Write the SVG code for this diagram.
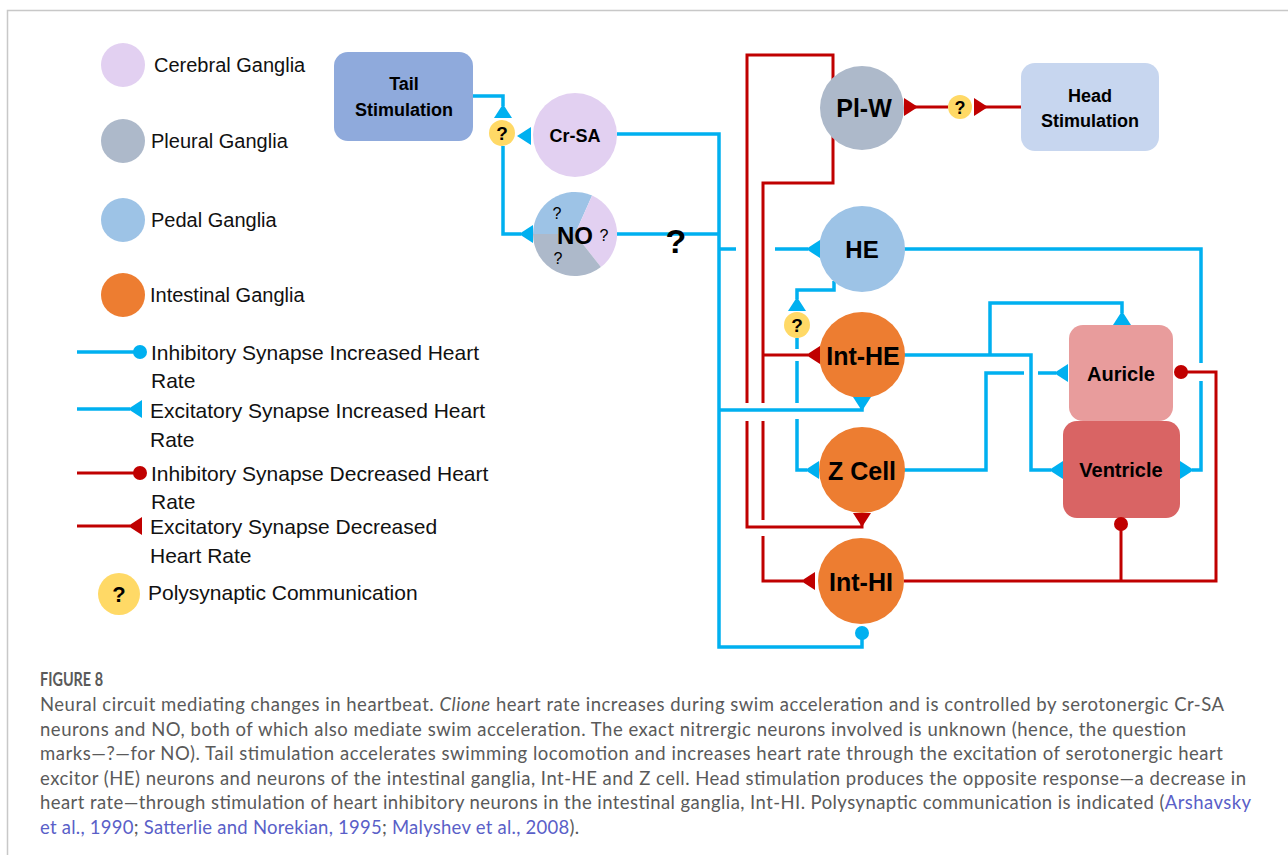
<svg xmlns="http://www.w3.org/2000/svg" width="1288" height="855" viewBox="0 0 1288 855">
<style>
.bl{fill:none;stroke:#00b0f0;stroke-width:3.5}
.rd{fill:none;stroke:#c00000;stroke-width:3}
.bf{fill:#00b0f0}
.rf{fill:#c00000}
.yq{fill:#ffd966}
.lg{font-family:"Liberation Sans",Arial,sans-serif;font-size:20px;fill:#111}
.lg2{font-family:"Liberation Sans",Arial,sans-serif;font-size:21px;fill:#111}
.nd{font-family:"Liberation Sans",Arial,sans-serif;font-weight:bold;fill:#000;text-anchor:middle}
.qs{font-family:"Liberation Sans",Arial,sans-serif;fill:#000;text-anchor:middle}
.cap{font-family:Lato,"Open Sans",sans-serif;font-size:18.5px;fill:#5a5a5a}
.lk{fill:#5a5fc8}
</style>
<defs>
<!-- excitatory synapse head: tip at origin, flat base 14px behind it -->
<path id="tri" d="M0,0 L14,-9 L14,9 Z"/>
</defs>
<rect width="1288" height="855" fill="#fff"/>
<!-- frame -->
<path d="M7.5,855 V10.5 H1288" fill="none" stroke="#c8c8c8" stroke-width="1.5"/>

<!-- legend -->
<g id="legend">
<circle cx="123" cy="65" r="22" fill="#e2d0f1"/>
<text class="lg" x="154" y="72">Cerebral Ganglia</text>
<circle cx="123" cy="141" r="22" fill="#adb9ca"/>
<text class="lg" x="151" y="148">Pleural Ganglia</text>
<circle cx="123" cy="220" r="22" fill="#9dc3e6"/>
<text class="lg" x="151" y="227">Pedal Ganglia</text>
<circle cx="123" cy="295" r="22" fill="#ed7d31"/>
<text class="lg" x="150" y="302">Intestinal Ganglia</text>

<path class="bl" d="M77,352 H136"/>
<circle class="bf" cx="140" cy="352" r="7"/>
<text class="lg2" x="151" y="360">Inhibitory Synapse Increased Heart</text>
<text class="lg2" x="151" y="388">Rate</text>

<path class="bl" d="M77,409 H130"/>
<use href="#tri" class="bf" transform="translate(128,409)"/>
<text class="lg2" x="150" y="418">Excitatory Synapse Increased Heart</text>
<text class="lg2" x="150" y="447">Rate</text>

<path class="rd" d="M77,473 H136"/>
<circle class="rf" cx="140" cy="473" r="7"/>
<text class="lg2" x="151" y="481">Inhibitory Synapse Decreased Heart</text>
<text class="lg2" x="151" y="509">Rate</text>

<path class="rd" d="M77,526 H130"/>
<use href="#tri" class="rf" transform="translate(128,526)"/>
<text class="lg2" x="150" y="534">Excitatory Synapse Decreased</text>
<text class="lg2" x="150" y="563">Heart Rate</text>

<circle class="yq" cx="119" cy="594" r="21"/>
<text class="qs" x="119" y="602" font-size="22" font-weight="bold">?</text>
<text class="lg2" x="148" y="600">Polysynaptic Communication</text>
</g>

<!-- wiring -->
<g id="connectors">
<!-- blue: increased heart rate pathways -->
<path class="bl" d="M473,96 H503 V106"/>
<path class="bl" d="M503,146 V234 H521"/>
<path class="bl" d="M617,134 H719 V647 H862 V638"/>
<path class="bl" d="M617,234 H719"/>
<path class="bl" d="M719,249 H736 M775,249 H808"/>
<path class="bl" d="M719,410 H862 V404"/>
<path class="bl" d="M904,249 H1201 V363 M1201,381 V470 H1192"/>
<path class="bl" d="M834,281 V290 H797 V299"/>
<path class="bl" d="M797,338 V349 M797,361 V403 M797,419 V470 H807"/>
<path class="bl" d="M904,355 H1031 V470 H1051"/>
<path class="bl" d="M990,355 V303 H1122 V313"/>
<path class="bl" d="M904,470 H986 V373 H1024 M1038,373 H1056"/>
<!-- red: decreased heart rate pathways -->
<path class="rd" d="M747,403 V55 H833 V183 H763 V403"/>
<path class="rd" d="M747,421 V527 H862 V520"/>
<path class="rd" d="M763,421 V520 M763,536 V581 H803"/>
<path class="rd" d="M763,355 H808" stroke-width="1.5"/>
<path class="rd" d="M904,107 H948 M974,107 H1021"/>
<path class="rd" d="M1181,372 H1216 V581 H904"/>
<path class="rd" d="M1121,524 V581"/>
</g>

<!-- nodes -->
<g id="tail-stimulation">
<rect x="334" y="52" width="139" height="89" rx="14" fill="#8faadc"/>
<text class="nd" x="404" y="90" font-size="18">Tail</text>
<text class="nd" x="404" y="116" font-size="18">Stimulation</text>
</g>
<g id="q-tail">
<circle class="yq" cx="502" cy="133" r="13"/>
<text class="qs" x="502" y="140" font-size="19" font-weight="bold">?</text>
</g>
<g id="cr-sa">
<circle cx="575" cy="135" r="42" fill="#e2d0f1"/>
<text class="nd" x="575" y="142" font-size="18">Cr-SA</text>
</g>
<g id="no">
<path d="M575,234 L533,234 A42,42 0 0 1 592.1,195.6 Z" fill="#9dc3e6"/>
<path d="M575,234 L592.1,195.6 A42,42 0 0 1 600.9,267.1 Z" fill="#e2d0f1"/>
<path d="M575,234 L600.9,267.1 A42,42 0 0 1 533,234 Z" fill="#adb9ca"/>
<text class="qs" x="557" y="219" font-size="16">?</text>
<text class="qs" x="604" y="241" font-size="16">?</text>
<text class="qs" x="558" y="264" font-size="16">?</text>
<text class="nd" x="575" y="244" font-size="24">NO</text>
</g>
<g id="q-no">
<text class="qs" x="676" y="253" font-size="34" font-weight="bold">?</text>
</g>
<g id="pl-w">
<circle cx="862" cy="108" r="42" fill="#adb9ca"/>
<text class="nd" x="864" y="117" font-size="25">Pl-W</text>
</g>
<g id="q-head">
<circle class="yq" cx="960" cy="107" r="12"/>
<text class="qs" x="960" y="114" font-size="18" font-weight="bold">?</text>
</g>
<g id="head-stimulation">
<rect x="1021" y="63" width="138" height="88" rx="14" fill="#c7d6ef"/>
<text class="nd" x="1090" y="102" font-size="18">Head</text>
<text class="nd" x="1090" y="127" font-size="18">Stimulation</text>
</g>
<g id="he">
<circle cx="862" cy="249" r="43" fill="#9dc3e6"/>
<text class="nd" x="862" y="258" font-size="24">HE</text>
</g>
<g id="q-he">
<circle class="yq" cx="797" cy="325" r="13"/>
<text class="qs" x="797" y="332" font-size="19" font-weight="bold">?</text>
</g>
<g id="int-he">
<circle cx="862" cy="355" r="43" fill="#ed7d31"/>
<text class="nd" x="863" y="365" font-size="25">Int-HE</text>
</g>
<g id="z-cell">
<circle cx="862" cy="470" r="43" fill="#ed7d31"/>
<text class="nd" x="862" y="480" font-size="25">Z Cell</text>
</g>
<g id="int-hi">
<circle cx="861" cy="581" r="43" fill="#ed7d31"/>
<text class="nd" x="861" y="591" font-size="25">Int-HI</text>
</g>
<g id="auricle">
<rect x="1069" y="325" width="104" height="96" rx="14" fill="#e89c9c"/>
<text class="nd" x="1121" y="381" font-size="20">Auricle</text>
</g>
<g id="ventricle">
<rect x="1063" y="421" width="117" height="97" rx="14" fill="#d96464"/>
<text class="nd" x="1121" y="477" font-size="20">Ventricle</text>
</g>

<!-- synapse terminals -->
<g id="synapses">
<use href="#tri" class="bf" transform="translate(806,249)"/>
<use href="#tri" class="rf" transform="translate(806,355)"/>
<use href="#tri" class="rf" transform="translate(801,581)"/>
<use href="#tri" class="bf" transform="translate(805,470)"/>
<use href="#tri" class="bf" transform="translate(517,136)"/>
<use href="#tri" class="bf" transform="translate(519,234)"/>
<use href="#tri" class="bf" transform="translate(1054,373)"/>
<use href="#tri" class="bf" transform="translate(1049,470)"/>
<use href="#tri" class="bf" transform="translate(1194,470) rotate(180)"/>
<use href="#tri" class="rf" transform="translate(918,107) rotate(180)"/>
<use href="#tri" class="rf" transform="translate(988,107) rotate(180)"/>
<use href="#tri" class="bf" transform="translate(862,411) rotate(-90)"/>
<use href="#tri" class="rf" transform="translate(862,527) rotate(-90)"/>
<use href="#tri" class="bf" transform="translate(503,104) rotate(90)"/>
<use href="#tri" class="bf" transform="translate(797,297) rotate(90)"/>
<use href="#tri" class="bf" transform="translate(1122,311) rotate(90)"/>
<circle class="bf" cx="862" cy="633" r="7"/>
<circle class="rf" cx="1181" cy="372" r="7"/>
<circle class="rf" cx="1121" cy="524" r="7"/>
</g>

<!-- caption -->
<g id="caption">
<text class="cap" x="40" y="686" font-size="13.5" font-weight="bold" fill="#666" textLength="63" lengthAdjust="spacingAndGlyphs">FIGURE 8</text>
<text class="cap" x="40" y="711" textLength="1184">Neural circuit mediating changes in heartbeat. <tspan font-style="italic">Clione</tspan> heart rate increases during swim acceleration and is controlled by serotonergic Cr-SA</text>
<text class="cap" x="40" y="736" textLength="1146">neurons and NO, both of which also mediate swim acceleration. The exact nitrergic neurons involved is unknown (hence, the question</text>
<text class="cap" x="40" y="760" textLength="1183">marks—?—for NO). Tail stimulation accelerates swimming locomotion and increases heart rate through the excitation of serotonergic heart</text>
<text class="cap" x="40" y="785" textLength="1206">excitor (HE) neurons and neurons of the intestinal ganglia, Int-HE and Z cell. Head stimulation produces the opposite response—a decrease in</text>
<text class="cap" x="40" y="809" textLength="1211">heart rate—through stimulation of heart inhibitory neurons in the intestinal ganglia, Int-HI. Polysynaptic communication is indicated (<tspan class="lk">Arshavsky</tspan></text>
<text class="cap" x="40" y="834" textLength="539"><tspan class="lk">et al., 1990</tspan>; <tspan class="lk">Satterlie and Norekian, 1995</tspan>; <tspan class="lk">Malyshev et al., 2008</tspan>).</text>
</g>
</svg>
